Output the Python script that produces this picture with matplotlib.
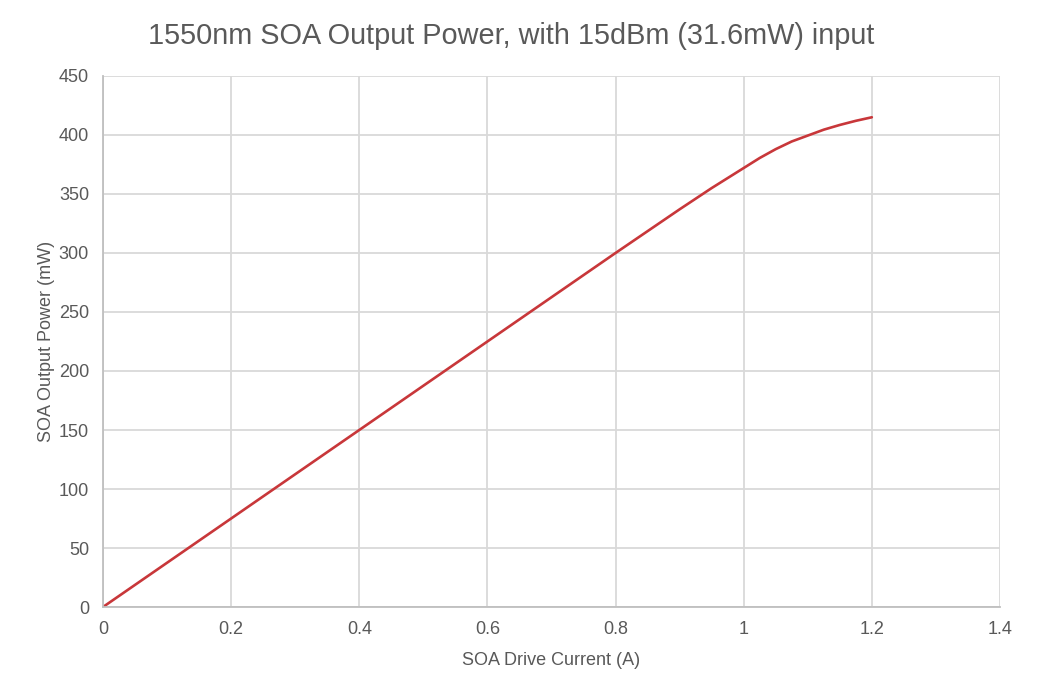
import matplotlib
matplotlib.use("Agg")
import matplotlib.pyplot as plt

# corrente (A) e potencia de saida (mW)
corrente = [0, 0.2, 0.4, 0.6, 0.8, 0.9, 0.95, 0.975, 1.0, 1.025, 1.05,
            1.075, 1.1, 1.125, 1.15, 1.175, 1.2]
potencia = [0, 75, 150, 225, 300, 337, 355, 363.5, 372, 380.5, 388,
            394.5, 399.5, 404.5, 408.5, 412, 415]

x_ticks = [0, 0.2, 0.4, 0.6, 0.8, 1.0, 1.2, 1.4]
x_labels = ["0", "0.2", "0.4", "0.6", "0.8", "1", "1.2", "1.4"]
y_ticks = [0, 50, 100, 150, 200, 250, 300, 350, 400, 450]

texto = "#595959"
plt.rcParams["font.family"] = ["Liberation Sans", "DejaVu Sans"]

fig = plt.figure(figsize=(10.37, 6.97), dpi=100)
ax = fig.add_axes([0.0993, 0.1291, 0.8650, 0.7619])

ax.plot(corrente, potencia, color="#C8373A", linewidth=1.9,
        solid_capstyle="round", solid_joinstyle="round")

ax.set_xlim(0, 1.4)
ax.set_ylim(0, 450)
ax.set_xticks(x_ticks)
ax.set_xticklabels(x_labels)
ax.set_yticks(y_ticks)

ax.grid(True, color="#D9D9D9", linewidth=1.3)
ax.set_axisbelow(True)
for lado in ["top", "right"]:
    ax.spines[lado].set_visible(False)
ax.spines["left"].set_color("#BFBFBF")
ax.spines["bottom"].set_color("#BFBFBF")
ax.spines["left"].set_linewidth(1.3)
ax.spines["bottom"].set_linewidth(1.3)
ax.tick_params(length=0, labelsize=13, colors=texto, pad=10)

ax.set_xlabel("SOA Drive Current (A)", fontsize=13, color=texto, labelpad=10)
ax.set_ylabel("SOA Output Power (mW)", fontsize=13, color=texto, labelpad=3)
fig.suptitle("1550nm SOA Output Power, with 15dBm (31.6mW) input",
             x=0.493, y=0.968, fontsize=20.8, color=texto)

fig.savefig("out.png", dpi=100)
